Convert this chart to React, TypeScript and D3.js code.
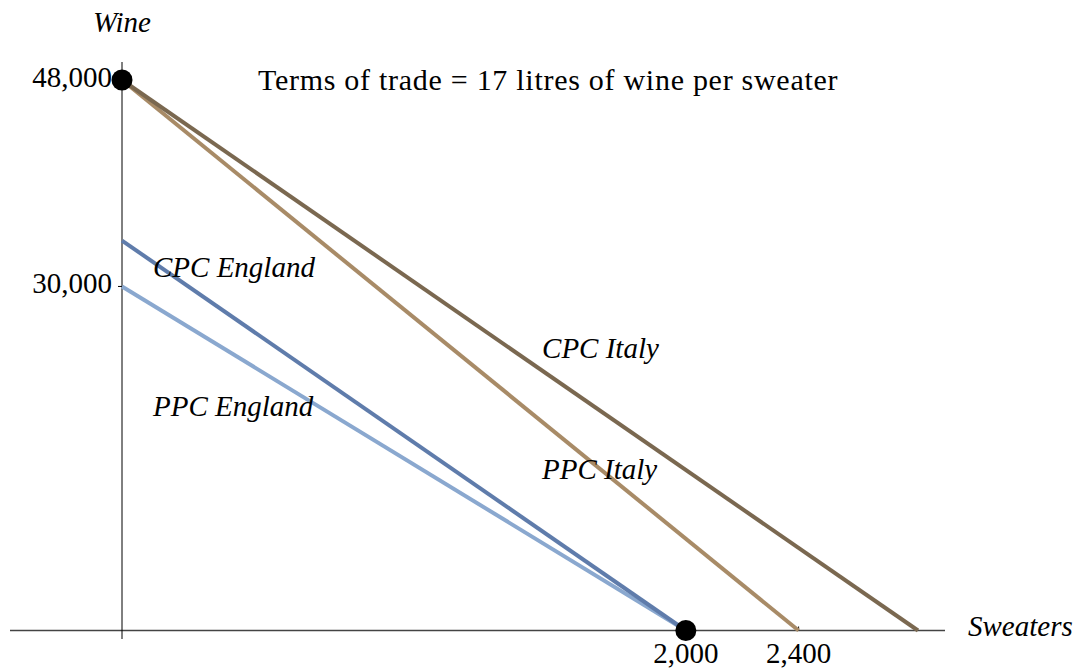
import React from "react";
import * as d3 from "d3";

const curveNames = ["PPC England", "CPC England", "PPC Italy", "CPC Italy"];
const wineIntercepts = [30000, 34000, 48000, 48000];
const sweaterIntercepts = [2000, 2000, 2400, 2823.5];
const curveColors = ["#8aa8cf", "#5f7cab", "#a88b67", "#7a6850"];

const yTickValues = [30000, 48000];
const xTickValues = [2000, 2400];
const dotPoints: [number, number][] = [
  [0, 48000],
  [2000, 0],
];

const labelTexts = ["CPC England", "PPC England", "CPC Italy", "PPC Italy"];
const labelAnchors: [number, number][] = [
  [110, 30800],
  [110, 18700],
  [1490, 23760],
  [1490, 13210],
];

const title = "Terms of trade = 17 litres of wine per sweater";

const W = 1077;
const H = 668;

export default function App() {
  const x = d3.scaleLinear().domain([0, 2823.5]).range([122, 918]);
  const y = d3.scaleLinear().domain([0, 48000]).range([630.5, 80]);
  const fmt = d3.format(",");
  const line = d3
    .line<[number, number]>()
    .x((d) => x(d[0]))
    .y((d) => y(d[1]));
  const font = "'Liberation Serif', 'Times New Roman', serif";

  return (
    <svg
      width={W}
      height={H}
      style={{ position: "absolute", left: 0, top: 0, background: "#fff" }}
      fontFamily={font}
    >
      {/* axes */}
      <line x1={10} x2={945} y1={y(0)} y2={y(0)} stroke="#444" strokeWidth={1.5} />
      <line x1={x(0)} x2={x(0)} y1={62} y2={639} stroke="#000" strokeWidth={1} />
      {yTickValues.map((v) => (
        <g key={"yt" + v}>
          <line x1={x(0) - 4} x2={x(0)} y1={y(v)} y2={y(v)} stroke="#000" strokeWidth={1} />
          <text x={112} y={y(v) + 7} textAnchor="end" fontSize={29}>
            {fmt(v)}
          </text>
        </g>
      ))}
      {xTickValues.map((v) => (
        <g key={"xt" + v}>
          <line x1={x(v)} x2={x(v)} y1={y(0) - 4} y2={y(0)} stroke="#000" strokeWidth={1} />
          <text x={x(v)} y={663} textAnchor="middle" fontSize={29}>
            {fmt(v)}
          </text>
        </g>
      ))}
      <text x={x(0)} y={32} textAnchor="middle" fontSize={29} fontStyle="italic">
        Wine
      </text>
      <text x={968} y={636} fontSize={29} fontStyle="italic">
        Sweaters
      </text>

      {/* curves */}
      {curveNames.map((name, i) => (
        <path
          key={name}
          d={
            line([
              [0, wineIntercepts[i]],
              [sweaterIntercepts[i], 0],
            ]) || ""
          }
          stroke={curveColors[i]}
          strokeWidth={4}
          fill="none"
        />
      ))}

      {dotPoints.map((p, i) => (
        <circle key={"dot" + i} cx={x(p[0])} cy={y(p[1])} r={10.5} fill="#000" />
      ))}

      {labelTexts.map((t, i) => (
        <text
          key={t}
          x={x(labelAnchors[i][0])}
          y={y(labelAnchors[i][1])}
          fontSize={29}
          fontStyle="italic"
        >
          {t}
        </text>
      ))}

      <text x={258} y={90} fontSize={30} letterSpacing={0.72}>
        {title}
      </text>
    </svg>
  );
}
